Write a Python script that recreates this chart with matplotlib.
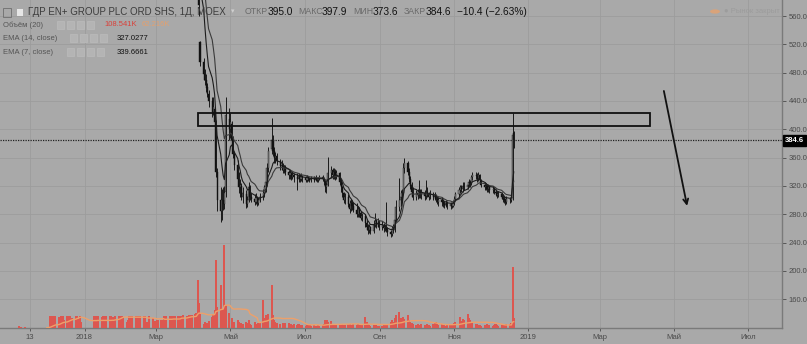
import numpy as np
import pandas as pd
import matplotlib

matplotlib.use("Agg")
import matplotlib.pyplot as plt
import matplotlib.dates as mdates
from matplotlib.patches import Rectangle
from matplotlib.transforms import blended_transform_factory

plt.rcParams["font.family"] = ["Liberation Sans", "DejaVu Sans"]

# ---- данные: дневные свечи ГДР EN+ (19.03.2018 - 20.12.2018), по неделям Пн..Пт
price_start, price_end = "2018-03-19", "2018-12-20"
opens = [
    690, 686, 682, 688, 684,  678, 672, 668, 664, 660,  655, 655, 650, 640, 523,
    495, 478, 470, 460, 450,  440, 425, 428, 410, 340,  300, 285, 300, 295, 312,
    415, 400, 408, 385, 365,  350, 330, 318, 320, 305,  308, 295, 300, 318, 305,
    302, 298, 303, 296, 300,  304, 310, 318, 325, 345,  372, 385, 370, 360, 362,
    355, 348, 350, 342, 345,  340, 335, 338, 333, 336,  332, 330, 334, 330, 333,
    331, 329, 332, 330, 328,  331, 329, 331, 328, 330,  332, 330, 326, 318, 322,
    338, 342, 336, 340, 335,  338, 326, 318, 310, 300,  305, 295, 288, 296, 292,
    286, 280, 288, 282, 275,  278, 268, 262, 258, 262,  256, 265, 270, 266, 268,
    262, 265, 260, 262, 258,  255, 252, 260, 258, 272,  290, 300, 305, 310, 345,
    352, 340, 330, 320, 312,  305, 310, 307, 312, 308,  310, 306, 312, 309, 305,
    308, 304, 306, 302, 298,  300, 297, 295, 293, 296,  292, 294, 292, 296, 302,
    308, 314, 318, 315, 320,  318, 322, 326, 324, 332,  336, 334, 330, 335, 328,
    322, 318, 320, 316, 318,  314, 316, 312, 310, 307,  309, 305, 302, 300, 297,
    302, 300, 303, 395.0,
]
highs = [
    696, 692, 690, 694, 690,  684, 678, 674, 670, 664,  662, 660, 656, 645, 525,
    500, 485, 478, 465, 455,  446, 446, 430, 413, 345,  318, 315, 318, 320, 446,
    430, 423, 412, 390, 370,  357, 340, 330, 324, 318,  314, 306, 326, 322, 310,
    308, 310, 306, 305, 310,  315, 322, 330, 352, 375,  416, 392, 375, 368, 366,
    358, 356, 353, 350, 350,  342, 342, 340, 340, 338,  338, 338, 337, 338, 336,
    334, 335, 334, 333, 334,  334, 335, 333, 333, 336,  335, 332, 328, 326, 361,
    348, 346, 345, 344, 342,  340, 330, 320, 312, 310,  308, 300, 302, 300, 298,
    296, 292, 290, 285, 282,  280, 272, 266, 266, 264,  272, 282, 274, 275, 272,
    270, 268, 266, 298, 262,  258, 264, 266, 276, 300,  331, 314, 316, 352, 359,
    355, 345, 334, 325, 318,  314, 316, 328, 316, 315,  314, 328, 318, 312, 314,
    312, 311, 309, 306, 305,  304, 301, 299, 300, 299,  298, 297, 300, 306, 312,
    318, 322, 322, 325, 326,  326, 330, 329, 336, 340,  340, 338, 340, 337, 330,
    326, 324, 323, 322, 320,  320, 318, 316, 313, 313,  311, 309, 306, 303, 306,
    305, 308, 423, 397.9,
]
lows = [
    684, 680, 676, 682, 676,  670, 666, 662, 658, 652,  650, 646, 638, 560, 490,
    470, 462, 452, 445, 432,  418, 420, 403, 333, 285,  269, 272, 286, 288, 305,
    385, 388, 378, 360, 342,  325, 310, 305, 300, 296,  289, 290, 298, 300, 297,
    293, 295, 292, 293, 297,  300, 305, 312, 320, 340,  365, 362, 352, 352, 350,
    343, 342, 338, 338, 336,  330, 330, 328, 330, 326,  314, 325, 326, 327, 326,
    326, 326, 327, 325, 325,  326, 327, 325, 326, 328,  327, 322, 312, 310, 320,
    333, 330, 330, 328, 330,  322, 312, 305, 296, 295,  290, 282, 285, 286, 283,
    276, 276, 276, 272, 270,  262, 258, 252, 254, 252,  254, 262, 260, 262, 258,
    258, 255, 256, 255, 250,  248, 249, 254, 255, 270,  285, 292, 298, 308, 338,
    335, 325, 315, 305, 300,  300, 302, 303, 303, 302,  300, 302, 304, 300, 302,
    300, 300, 297, 294, 292,  292, 290, 289, 290, 288,  288, 289, 290, 293, 299,
    305, 310, 311, 312, 314,  315, 318, 319, 322, 328,  330, 326, 327, 324, 318,
    314, 314, 311, 312, 310,  310, 308, 306, 303, 304,  301, 298, 296, 293, 294,
    296, 297, 300, 373.6,
]
closes = [
    686, 682, 688, 684, 678,  672, 668, 664, 660, 655,  655, 650, 640, 575, 495,
    478, 470, 458, 450, 440,  425, 432, 410, 340, 300,  285, 300, 295, 310, 420,
    400, 410, 385, 365, 350,  330, 318, 322, 305, 310,  295, 300, 318, 305, 302,
    298, 303, 296, 300, 304,  310, 318, 325, 345, 370,  385, 370, 360, 362, 355,
    348, 350, 342, 345, 340,  335, 338, 333, 336, 332,  330, 334, 330, 333, 331,
    329, 332, 330, 328, 331,  329, 331, 328, 330, 332,  330, 326, 318, 322, 338,
    342, 336, 340, 335, 338,  326, 318, 310, 300, 305,  295, 288, 296, 292, 286,
    280, 288, 282, 275, 278,  268, 262, 258, 262, 256,  265, 270, 266, 268, 262,
    265, 260, 262, 258, 255,  252, 260, 258, 272, 290,  300, 305, 310, 345, 352,
    340, 330, 320, 312, 305,  310, 307, 312, 308, 310,  306, 312, 309, 305, 308,
    304, 306, 302, 298, 300,  297, 295, 293, 296, 292,  294, 292, 296, 302, 308,
    314, 318, 315, 320, 318,  322, 326, 324, 332, 336,  334, 330, 335, 328, 322,
    318, 320, 316, 318, 314,  316, 312, 310, 307, 309,  305, 302, 300, 297, 302,
    300, 303, 392, 384.6,
]

# ---- объём, тыс. шт. (06.11.2017 - 20.12.2018)
vol_start, vol_end = "2017-11-06", "2018-12-20"
volume_k = [
    0, 0, 20, 15, 8,  10, 0, 0, 0, 0,  0, 0, 0, 0, 4,  0, 0, 0, 0, 0,
    130, 125, 128, 120, 126,  124, 100, 128, 130, 90,  128, 126, 132, 100, 110,
    125, 130, 95, 128, 60,  0, 0, 0, 0, 0,  0, 128, 130, 125, 132,
    120, 128, 130, 92, 126,  128, 130, 124, 118, 130,  125, 90, 128, 130, 124,
    60, 85, 128, 125, 130,  130, 120, 128, 80, 126,  132, 128, 70, 0, 130,
    110, 75, 60, 80, 85,  85, 90, 130, 0, 128,  130, 128, 125, 132, 130,
    128, 132, 130, 125, 140,  135, 130, 138, 140, 145,  150, 160, 520, 270, 150,
    40, 60, 35, 50, 80,  120, 150, 200, 740, 230,  470, 200, 180, 896, 250,
    160, 0, 110, 70, 60,  90, 60, 0, 50, 45,  70, 50, 90, 40, 35,
    60, 30, 40, 55, 60,  305, 110, 140, 130, 150,  462, 140, 90, 60, 50,
    45, 0, 50, 40, 55,  50, 45, 40, 35, 45,  30, 40, 35, 25, 30,
    25, 30, 20, 35, 25,  30, 25, 20, 30, 25,  30, 40, 85, 90, 60,
    80, 40, 30, 25, 35,  30, 40, 45, 35, 30,  40, 45, 35, 30, 40,
    35, 40, 30, 45, 35,  120, 60, 40, 30, 25,  30, 25, 30, 20, 25,
    25, 30, 35, 40, 30,  60, 90, 70, 110, 140,  170, 110, 80, 120, 100,
    140, 90, 60, 50, 40,  35, 40, 30, 35, 40,  30, 35, 40, 30, 25,
    45, 55, 60, 40, 35,  40, 30, 35, 25, 30,  30, 35, 40, 50, 60,
    0, 120, 80, 100, 90,  150, 110, 90, 70, 60,  45, 40, 35, 30, 25,
    30, 25, 40, 35, 30,  25, 30, 45, 35, 25,  30, 25, 35, 30, 40,
    45, 50, 658, 108.5,
]

# ---- подписи осей
price_ticks = [160, 200, 240, 280, 320, 360, 400, 440, 480, 520, 560]
x_tick_dates = ["2017-11-17", "2018-01-01", "2018-03-01", "2018-05-01", "2018-07-01",
                "2018-09-01", "2018-11-01", "2019-01-01", "2019-03-01", "2019-05-01",
                "2019-07-01"]
x_tick_labels = ["13", "2018", "Мар", "Май", "Июл", "Сен", "Ноя", "2019", "Мар", "Май", "Июл"]
last_close = 384.6

# ---- рисунки пользователя
zone_start, zone_end = "2018-04-04", "2019-04-11"
zone_low, zone_high = 405.1, 422.6
arrow_from = ("2019-04-22", 458.0)
arrow_to = ("2019-05-12", 288.0)

BG = "#a9a9a9"
GRID = "#9c9c9c"
W, H = 807, 344

fig = plt.figure(figsize=(W / 100, H / 100), dpi=100, facecolor=BG)
rect = [0, 16 / H, 782 / W, 328 / H]
ax = fig.add_axes(rect, facecolor=BG)

d = mdates.date2num(pd.bdate_range(price_start, price_end).to_pydatetime())
o = np.array(opens, float)
h = np.array(highs, float)
l = np.array(lows, float)
c = np.array(closes, float)

ema14 = pd.Series(c).ewm(span=14, adjust=False).mean()
ema7 = pd.Series(c).ewm(span=7, adjust=False).mean()

ax.grid(True, color=GRID, lw=0.6)
ax.set_axisbelow(True)

# свечи
up = c >= o
ax.vlines(d, l, h, color="#1a1a1a", lw=0.7, zorder=3)
body_h = np.maximum(np.abs(c - o), 0.8)
ax.bar(d[up], body_h[up], bottom=np.minimum(o, c)[up], width=0.9,
       color="#8a8a8a", edgecolor="#1a1a1a", lw=0.3, zorder=4)
ax.bar(d[~up], body_h[~up], bottom=np.minimum(o, c)[~up], width=0.9,
       color="#111111", edgecolor="#111111", lw=0.3, zorder=4)

ax.plot(d, ema14, color="#3a3a3a", lw=0.8, zorder=5)
ax.plot(d, ema7, color="#1c1c1c", lw=0.8, zorder=5)

# зона и стрелка
z0 = mdates.date2num(pd.Timestamp(zone_start))
z1 = mdates.date2num(pd.Timestamp(zone_end))
ax.add_patch(Rectangle((z0, zone_low), z1 - z0, zone_high - zone_low,
                       fill=False, edgecolor="#111111", lw=1.3, zorder=6))
ax.annotate("", xy=(mdates.date2num(pd.Timestamp(arrow_to[0])), arrow_to[1]),
            xytext=(mdates.date2num(pd.Timestamp(arrow_from[0])), arrow_from[1]),
            arrowprops=dict(arrowstyle="->", lw=1.3, color="#111111", mutation_scale=9),
            zorder=6)

ax.axhline(last_close, color="#222222", lw=0.9, ls=(0, (1, 1)), zorder=5)

x_left = mdates.date2num(pd.Timestamp("2018-01-01") - pd.Timedelta(days=69.5))
x_right = mdates.date2num(pd.Timestamp("2018-01-01") + pd.Timedelta(days=573.6))
ax.set_xlim(x_left, x_right)
ax.set_ylim(119.4, 582.6)

ax.yaxis.tick_right()
ax.set_yticks(price_ticks)
ax.set_yticklabels([f"{v:.1f}" for v in price_ticks])
ax.set_xticks(mdates.date2num([pd.Timestamp(t) for t in x_tick_dates]))
ax.set_xticklabels(x_tick_labels)
ax.tick_params(axis="both", labelsize=5.5, colors="#4a4a4a", length=3, width=0.6, pad=2)
ax.tick_params(axis="x", length=2)
for side in ["left", "top"]:
    ax.spines[side].set_visible(False)
for side in ["right", "bottom"]:
    ax.spines[side].set_color("#7a7a7a")
    ax.spines[side].set_linewidth(1.0)

# метка последней цены
tr = blended_transform_factory(ax.transAxes, ax.transData)
ax.text(1.004, last_close, f"{last_close:.1f}", transform=tr, fontsize=5.5,
        color="white", fontweight="bold", va="center", ha="left", zorder=10,
        bbox=dict(boxstyle="square,pad=0.25", fc="black", ec="black"), clip_on=False)

# объём
vax = fig.add_axes(rect, sharex=ax)
vax.patch.set_alpha(0)
vax.axis("off")
vd = mdates.date2num(pd.bdate_range(vol_start, vol_end).to_pydatetime())
v = np.array(volume_k, float)
vax.bar(vd, v, width=1.7, color="#dc5750", lw=0, antialiased=False)
vax.plot(vd, pd.Series(v).rolling(20).mean(), color="#eda06a", lw=1.0)
vax.set_ylim(0, 3559)
vax.set_xlim(x_left, x_right)


def ftext(x, y, s, **kw):
    fig.text(x / W, 1 - y / H, s, va="center", ha="left", **kw)


# легенда сверху
fig.patches.append(Rectangle((3 / W, 1 - 17 / H), 8 / W, 9 / H, transform=fig.transFigure,
                             fill=False, ec="#6e6e6e", lw=0.6))
fig.patches.append(Rectangle((17 / W, 1 - 16 / H), 6 / W, 7 / H, transform=fig.transFigure,
                             fc="#e6e6e6", ec="none"))
ftext(28, 12, "ГДР EN+ GROUP PLC ORD SHS, 1Д, MOEX", fontsize=7.0, color="#3c3c3c")
ftext(231, 12, "\u25be", fontsize=5, color="#d0d0d0")
for label, val, x0, x1 in [("ОТКР", "395.0", 245, 268), ("МАКС", "397.9", 298, 322),
                           ("МИН", "373.6", 353, 373), ("ЗАКР", "384.6", 404, 426)]:
    ftext(x0, 12, label, fontsize=6.3, color="#6a6a6a")
    ftext(x1, 12, val, fontsize=7.3, color="#111111")
ftext(457, 12, "\u221210.4 (\u22122.63%)", fontsize=7.3, color="#111111")

rows = [(25, "Объём (20)", 57), (38, "EMA (14, close)", 70), (52, "EMA (7, close)", 67)]
for y, label, ix in rows:
    ftext(3, y, label, fontsize=5.5, color="#555555")
    for k in range(4):
        fig.patches.append(Rectangle(((ix + k * 10) / W, 1 - (y + 3.5) / H), 7 / W, 7 / H,
                                     transform=fig.transFigure, fc="#b4b4b4",
                                     ec="#bcbcbc", lw=0.5))
ftext(104, 25, "108.541K", fontsize=5.5, color="#d9413a")
ftext(142, 25, "62.216K", fontsize=5.5, color="#e3a06e")
ftext(117, 38, "327.0277", fontsize=5.5, color="#111111")
ftext(117, 52, "339.6661", fontsize=5.5, color="#111111")

# статус рынка
fig.patches.append(matplotlib.patches.Circle((715 / W, 1 - 11.5 / H), 5 / W,
                                             transform=fig.transFigure, fc="#d9a37a", ec="none"))
ftext(724, 11.5, "\u25cf Рынок закрыт", fontsize=5.5, color="#9c9c9c")

fig.savefig("out.png", dpi=100, facecolor=BG)
